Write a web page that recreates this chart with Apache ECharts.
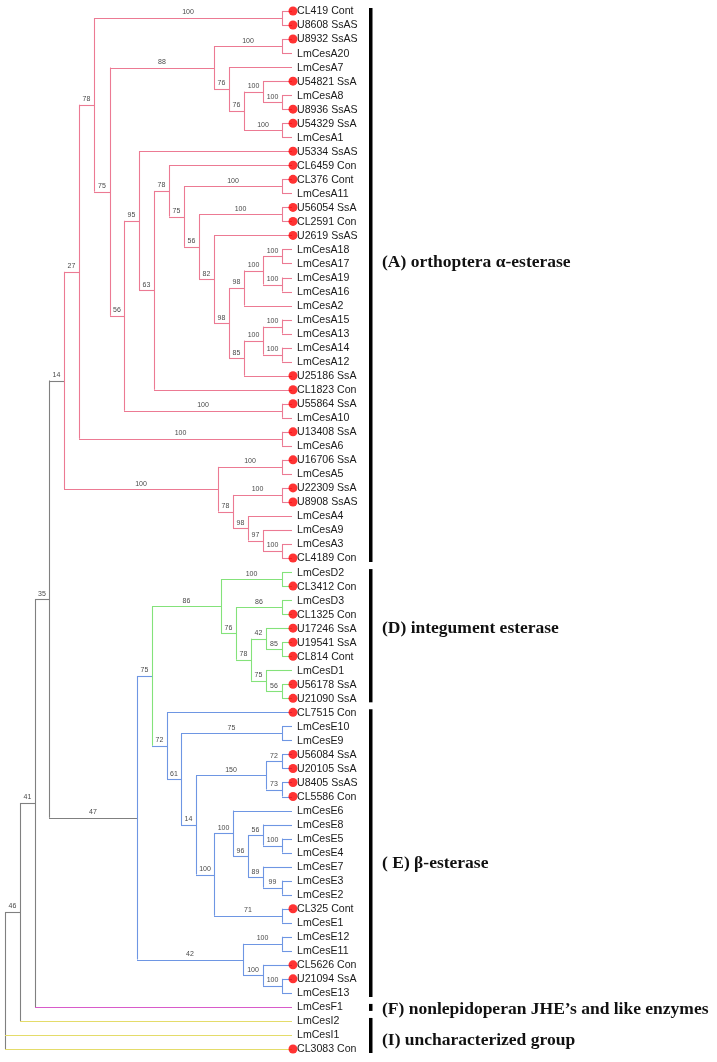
<!DOCTYPE html>
<html>
<head>
<meta charset="utf-8">
<script src="https://cdn.jsdelivr.net/npm/echarts@6/dist/echarts.min.js"></script>
<style>
html,body{margin:0;padding:0;background:#fff;}
#main{width:717px;height:1062px;}
</style>
</head>
<body>
<div id="main"></div>
<script>
// ---------------- DATA ----------------
// Tree pieces in Newick-like notation: leaf names ("*" = red dot), internal labels = bootstrap,
// ":n" = node depth (distance from root, absolute), "[V/S]" = colour group for vertical / stem.
const TIP = 287;
const a244t = "((*U54821 SsA,(LmCesA8,*U8936 SsAS)100:277)100:258,(*U54329 SsA,LmCesA1)100:277)76:239";
const a214t = `((*U8932 SsAS,LmCesA20)100:277,(LmCesA7,${a244t})76:224)88:209`;
const a244a = "(((LmCesA18,LmCesA17)100:277,(LmCesA19,LmCesA16)100:277)100:258,LmCesA2)98:239";
const a244b = "(((LmCesA15,LmCesA13)100:277,(LmCesA14,LmCesA12)100:277)100:258,*U25186 SsA)85:239";
const a199 = `((*U56054 SsA,*CL2591 Con)100:277,(*U2619 SsAS,(${a244a},${a244b})98:224)82:209)56:194`;
const a139 = `(*U5334 SsAS,((*CL6459 Con,((*CL376 Cont,LmCesA11)100:277,${a199})75:179)78:164,*CL1823 Con)63:149)95:134`;
const a124 = `(${a139},(*U55864 SsA,LmCesA10)100:277)56:119`;
const a94 = `((*CL419 Cont,*U8608 SsAS)100:277,(${a214t},${a124})75:105)78:89`;
const a218 = "((*U16706 SsA,LmCesA5)100:277,((*U22309 SsA,*U8908 SsAS)100:277,(LmCesA4,(LmCesA9,(LmCesA3,*CL4189 Con)100:277)97:258)98:243)78:228)100:213";
const cladeA = `((${a94},(*U13408 SsA,LmCesA6)100:277)27:74,${a218})14[A/X]:59`;

const cladeD = "((LmCesD2,*CL3412 Con)100:277,((LmCesD3,*CL1325 Con)86:277,((*U17246 SsA,(*U19541 SsA,*CL814 Cont)85:277)42:261,(LmCesD1,(*U56178 SsA,*U21090 SsA)56:277)75:261)78:246)76:231)86:216";

const e248 = "((LmCesE8,(LmCesE5,LmCesE4)100:277)56:258,(LmCesE7,(LmCesE3,LmCesE2)99:277)89:258)96:243";
const e196 = `(((*U56084 SsA,*U20105 SsA)72:277,(*U8405 SsAS,*CL5586 Con)73:277)150:261,((LmCesE6,${e248})100:228,(*CL325 Cont,LmCesE1)71:277)100:209)14:191`;
const cladeE1 = `(*CL7515 Con,((LmCesE10,LmCesE9)75:277,${e196})61:176)72[E]:162`;
const cladeE2 = "((LmCesE12,LmCesE11)100:277,(*CL5626 Con,(*U21094 SsA,LmCesE13)100:277)100:258)42:238";

const treeStr = "((((" + cladeA + ",((" + cladeD + "," + cladeE1 + ")75[D/E]:147," + cladeE2 + ")47[E/X]:132" +
  ")35:44,LmCesF1[F])41:30,LmCesI2[I])46:15,LmCesI1[I],*CL3083 Con[I])[X]:0";

const groupColors = {X:'#808080', A:'#ec7a93', D:'#84e27a', E:'#6e96e3', F:'#d85bca', I:'#e4dc6a'};

const groupLabels = ['(A) orthoptera \u03b1-esterase', '(D) integument esterase', '( E) \u03b2-esterase',
  '(F) nonlepidoperan JHE\u2019s and like enzymes', '(I) uncharacterized group'];
const groupStart = [0, 40, 50, 71, 72];
const groupEnd   = [39, 49, 70, 71, 74];
const groupLabelRow = [17.9, 44.0, 60.8, 71.2, 73.4];

// ---------------- BUILD ----------------
function parseNewick(str) {
  let i = 0;
  function readNode() {
    const n = {children: []};
    if (str[i] === '(') {
      i++;
      n.children.push(readNode());
      while (str[i] === ',') { i++; n.children.push(readNode()); }
      i++;
    }
    let lab = '';
    while (i < str.length && '[:,()'.indexOf(str[i]) < 0) lab += str[i++];
    n.label = lab.trim();
    if (str[i] === '[') { const j = str.indexOf(']', i); n.tag = str.slice(i + 1, j); i = j + 1; }
    if (str[i] === ':') { i++; let num = ''; while (i < str.length && /[0-9.]/.test(str[i])) num += str[i++]; n.depth = parseFloat(num); }
    return n;
  }
  return readNode();
}
const root = parseNewick(treeStr);
let leafIdx = 0;
const leaves = [], segs = [], boots = [];
function layout(n, parentV) {
  let v, s;
  if (n.tag) { const p = n.tag.split('/'); v = p[0]; s = p[1] || p[0]; } else { v = s = parentV; }
  n.v = v; n.s = s;
  if (!n.children.length) {
    n.marked = n.label[0] === '*';
    n.name = n.label.replace('*', '');
    n.depth = TIP;
    n.y = leafIdx++;
    leaves.push(n);
  } else {
    n.children.forEach(c => layout(c, v));
    n.y = (n.children[0].y + n.children[n.children.length - 1].y) / 2;
  }
}
layout(root, 'X');
function collect(n) {
  if (!n.children.length) return;
  const f = n.children[0], l = n.children[n.children.length - 1];
  segs.push([n.depth, f.y, n.depth, l.y, n.v]);
  n.children.forEach(c => {
    segs.push([n.depth, c.y, c.depth, c.y, c.s]);
    if (c.children.length && c.label) boots.push([(n.depth + c.depth) / 2, c.y, c.label]);
    collect(c);
  });
}
collect(root);

const BAR_X = 364, LABEL_X = 377;
const crisp = v => Math.round(v) + 0.5;

const chart = echarts.init(document.getElementById('main'));
chart.setOption({
  backgroundColor: '#ffffff',
  animation: false,
  grid: {left: 5, top: 11, width: 700, height: 1038},
  xAxis: {type: 'value', min: 0, max: 700, show: false},
  yAxis: {type: 'value', min: 0, max: leaves.length - 1, inverse: true, show: false},
  series: [
    {
      type: 'custom', coordinateSystem: 'cartesian2d', silent: true, z: 2,
      data: segs.map(s => [s[0], s[1], s[2], s[3]]),
      renderItem: function (params, api) {
        const s = segs[params.dataIndex];
        const p1 = api.coord([s[0], s[1]]), p2 = api.coord([s[2], s[3]]);
        const vert = s[0] === s[2];
        return {type: 'line',
          shape: vert ? {x1: crisp(p1[0]), y1: p1[1], x2: crisp(p2[0]), y2: p2[1]}
                      : {x1: p1[0], y1: crisp(p1[1]), x2: p2[0], y2: crisp(p2[1])},
          style: {stroke: groupColors[s[4]], lineWidth: 1.1}};
      }
    },
    {
      type: 'custom', coordinateSystem: 'cartesian2d', silent: true, z: 3,
      data: boots.map(b => [b[0], b[1]]),
      renderItem: function (params, api) {
        const b = boots[params.dataIndex];
        const p = api.coord([b[0], b[1]]);
        return {type: 'text', style: {text: b[2], x: p[0], y: p[1] - 2, fill: '#4a4a4a',
          font: '7px "Liberation Sans", Arial, sans-serif', align: 'center', verticalAlign: 'bottom'}};
      }
    },
    {
      type: 'scatter', silent: true, z: 4, symbol: 'circle', symbolSize: 9,
      itemStyle: {color: '#ff0000'},
      data: leaves.filter(l => l.marked).map(l => [TIP + 1, l.y])
    },
    {
      type: 'custom', coordinateSystem: 'cartesian2d', silent: true, z: 5,
      data: leaves.map(l => [TIP, l.y]),
      renderItem: function (params, api) {
        const l = leaves[params.dataIndex];
        const p = api.coord([l.depth, l.y]);
        return {type: 'text', style: {text: l.name, x: p[0] + 5, y: p[1] + 0.5, fill: '#1a1a1a',
          font: '10.6px "Liberation Sans", Arial, sans-serif', align: 'left', verticalAlign: 'middle'}};
      }
    },
    {
      type: 'custom', coordinateSystem: 'cartesian2d', silent: true, z: 5,
      data: groupLabels.map((g, i) => [BAR_X, groupStart[i]]),
      renderItem: function (params, api) {
        const i = params.dataIndex;
        const top = api.coord([BAR_X, groupStart[i]]);
        const bot = api.coord([BAR_X, groupEnd[i]]);
        const lab = api.coord([LABEL_X, groupLabelRow[i]]);
        return {type: 'group', children: [
          {type: 'rect', shape: {x: top[0], y: top[1] - 3, width: 3.5, height: bot[1] - top[1] + 7},
           style: {fill: '#000'}},
          {type: 'text', style: {text: groupLabels[i], x: lab[0], y: lab[1], fill: '#111',
            font: 'bold 17.5px "Liberation Serif", "Times New Roman", serif', align: 'left', verticalAlign: 'middle'}}
        ]};
      }
    }
  ]
});
</script>
</body>
</html>
